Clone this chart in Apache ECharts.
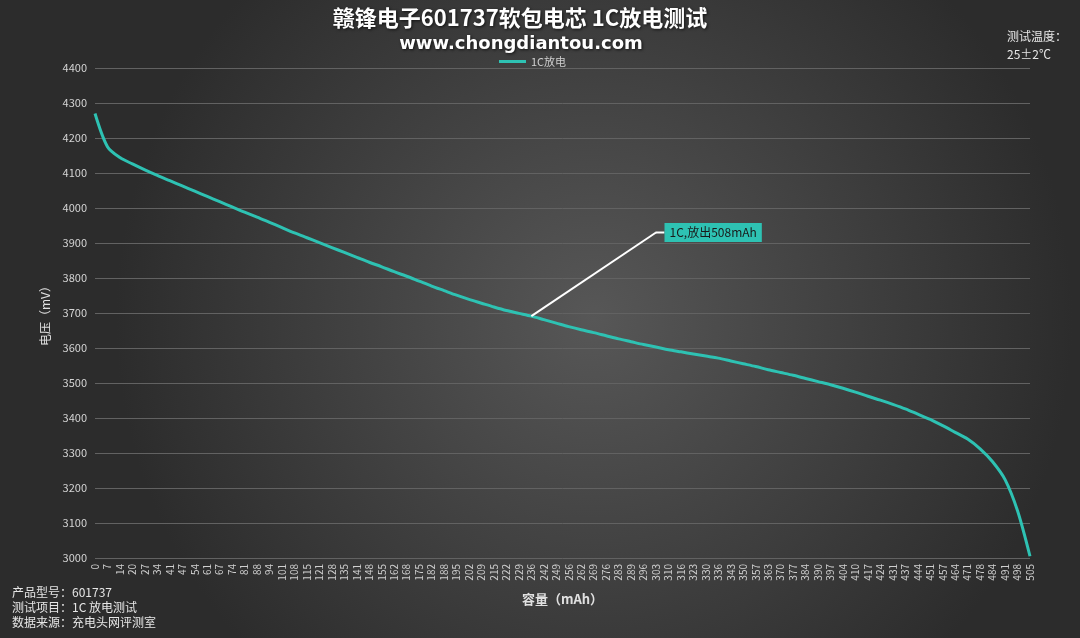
<!DOCTYPE html>
<html>
<head>
<meta charset="utf-8">
<script src="https://cdn.jsdelivr.net/npm/echarts@6/dist/echarts.min.js"></script>
<style>
html,body{margin:0;padding:0;background:#3a3a3a;}
#main{width:1080px;height:638px;}
</style>
</head>
<body>
<div id="main"></div>
<script>
// Category labels (capacity, mAh)
const capacityLabels = ['0','7','14','20','27','34','41','47','54','61','67','74','81','88','94','101','108','115','121','128','135','141','148','155','162','168','175','182','188','195','202','209','215','222','229','236','242','249','256','262','269','276','283','289','296','303','310','316','323','330','336','343','350','357','363','370','377','384','390','397','404','410','417','424','431','437','444','451','457','464','471','478','484','491','498','505'];
// Voltage (mV) for series "1C放电"
const voltage1C = [4270,4175,4144,4126,4109,4093,4078,4063,4048,4033,4018,4003,3988,3974,3959,3944,3929,3915,3901,3887,3873,3859,3845,3832,3818,3805,3791,3777,3764,3751,3739,3728,3717,3707,3699,3691,3681,3671,3661,3652,3644,3635,3626,3618,3610,3603,3595,3589,3583,3577,3571,3563,3555,3547,3538,3530,3522,3513,3504,3495,3485,3474,3462,3451,3439,3426,3411,3396,3378,3359,3340,3312,3275,3224,3135,3005];
const seriesName = '1C放电';
const yTicks = {min: 3000, max: 4400, interval: 100};
const annotation = {from: ['236', 3691], to: ['303', 3930], text: '1C,放出508mAh'};
const infoLines = ['产品型号：601737', '测试项目：1C 放电测试', '数据来源：充电头网评测室'];
const tempLines = ['测试温度：', '25±2℃'];

const chart = echarts.init(document.getElementById('main'));
const teal = '#2ec2b3';
const font = '"Noto Sans CJK SC", "Noto Sans", sans-serif';

chart.setOption({
  backgroundColor: {
    type: 'radial', x: 0.55, y: 0.5, r: 0.75,
    colorStops: [{offset: 0, color: '#575757'}, {offset: 1, color: '#2c2c2c'}]
  },
  textStyle: {fontFamily: font},
  title: [{
    text: '赣锋电子601737软包电芯 1C放电测试',
    left: 515, top: 2, textAlign: 'center',
    textStyle: {color: '#ffffff', fontSize: 22, fontWeight: 'bold', fontFamily: font,
      textShadowColor: 'rgba(0,0,0,0.7)', textShadowBlur: 3, textShadowOffsetX: 1, textShadowOffsetY: 1}
  }, {
    text: 'www.chongdiantou.com',
    left: 516, top: 30, textAlign: 'center',
    textStyle: {color: '#ffffff', fontSize: 18, fontWeight: 'bold', fontFamily: '"DejaVu Sans", "Open Sans", sans-serif',
      textShadowColor: 'rgba(0,0,0,0.7)', textShadowBlur: 3, textShadowOffsetX: 1, textShadowOffsetY: 1}
  }],
  legend: {
    data: [{name: seriesName, icon: 'rect'}], left: 494, top: 51, itemWidth: 27, itemHeight: 3,
    textStyle: {color: '#cfcfcf', fontSize: 11}
  },
  grid: {left: 95, right: 50, top: 68, bottom: 80},
  xAxis: {
    type: 'category', data: capacityLabels, boundaryGap: false,
    name: '容量（mAh）', nameLocation: 'middle', nameGap: 35,
    nameTextStyle: {color: '#e0e0e0', fontSize: 13, fontWeight: 'bold'},
    axisLine: {show: false}, axisTick: {show: false},
    axisLabel: {interval: 0, rotate: 90, color: '#cfcfcf', fontSize: 10, margin: 6}
  },
  yAxis: {
    type: 'value', min: yTicks.min, max: yTicks.max, interval: yTicks.interval,
    name: '电压（mV）', nameLocation: 'middle', nameGap: 44,
    nameTextStyle: {color: '#e0e0e0', fontSize: 12},
    axisLine: {show: false}, axisTick: {show: false},
    axisLabel: {color: '#d4d4d4', fontSize: 11, margin: 8, formatter: v => String(v)},
    splitLine: {lineStyle: {color: '#626262', width: 1}}
  },
  series: [{
    name: seriesName, type: 'line', data: voltage1C, smooth: 0.3,
    symbol: 'none', lineStyle: {color: teal, width: 3}, itemStyle: {color: teal},
    markLine: {
      silent: true, symbol: ['none', 'none'],
      lineStyle: {color: '#ffffff', width: 2, type: 'solid'},
      label: {show: false},
      data: [[{coord: annotation.from}, {coord: annotation.to}]]
    },
    markPoint: {
      silent: true,
      data: [{
        coord: annotation.to, symbol: 'rect', symbolSize: [9, 2], symbolOffset: [4, 0],
        itemStyle: {color: '#ffffff'},
        label: {show: true, position: 'right', distance: 0, formatter: annotation.text,
          color: '#1a1a1a', fontSize: 12, backgroundColor: teal, padding: [4, 5, 3, 5]}
      }]
    }
  }],
  graphic: [
    {type: 'text', left: 12, top: 585, style: {text: infoLines.join('\n'), fill: '#e6e6e6', font: '12px ' + font, lineHeight: 15}},
    {type: 'text', left: 1007, top: 27, style: {text: tempLines.join('\n'), fill: '#e6e6e6', font: '12px ' + font, lineHeight: 18}}
  ]
});
</script>
</body>
</html>
